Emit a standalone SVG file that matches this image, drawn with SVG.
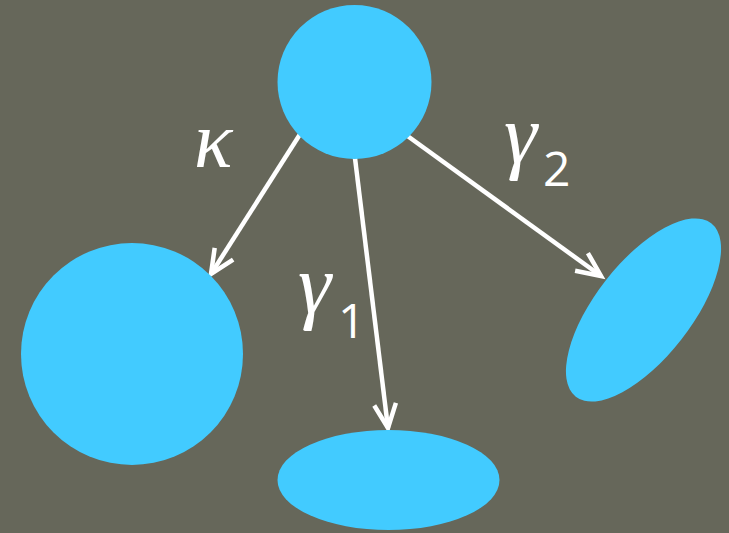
<svg xmlns="http://www.w3.org/2000/svg" width="729" height="533" viewBox="0 0 729 533">
<defs>
<marker id="arr" markerUnits="userSpaceOnUse" markerWidth="40" markerHeight="40" viewBox="-30 -20 40 40" refX="0" refY="0" orient="auto" overflow="visible">
<path d="M-22,-10 L0,0 L-22,10" fill="none" stroke="#ffffff" stroke-width="4.5" stroke-linecap="square" stroke-linejoin="miter"/>
</marker>
<style>
.edge{stroke:#ffffff;stroke-width:4.5;fill:none;marker-end:url(#arr)}
.node{fill:#42CBFF}
.g{font-family:"Liberation Serif","DejaVu Serif",serif;font-style:italic;fill:#ffffff}
.s{font-family:"Open Sans","Liberation Sans",sans-serif;fill:#ffffff}
</style>
</defs>
<rect width="729" height="533" fill="#66675A"/>
<g id="connectors">
<line class="edge" x1="304" y1="128" x2="211" y2="274"/>
<line class="edge" x1="354" y1="150" x2="388" y2="428"/>
<line class="edge" x1="402" y1="132" x2="601" y2="276"/>
</g>
<g id="top"><circle class="node" cx="354.5" cy="82" r="77"/></g>
<g id="left"><circle class="node" cx="132" cy="354" r="111"/></g>
<g id="bottom"><ellipse class="node" cx="388.5" cy="480" rx="111" ry="50"/></g>
<g id="right"><ellipse class="node" cx="643.5" cy="310" rx="110" ry="48" transform="rotate(-52 643.5 310)"/></g>
<g id="labels">
<text class="g" x="194" y="167" font-size="80">κ</text>
<text class="g" x="298" y="313" font-size="84">γ</text>
<text class="s" x="338" y="338" font-size="48">1</text>
<text class="g" x="504" y="163" font-size="84">γ</text>
<text class="s" x="543" y="186" font-size="48">2</text>
</g>
</svg>
